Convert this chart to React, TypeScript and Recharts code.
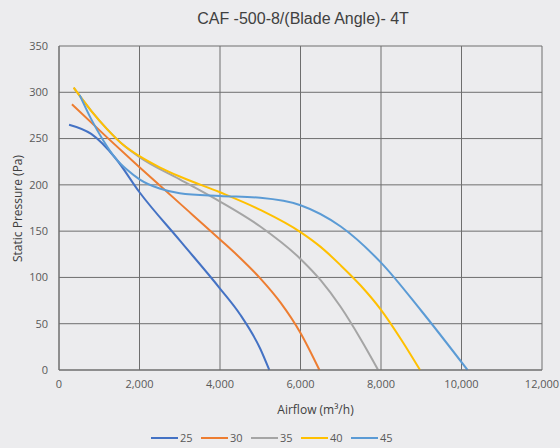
import { LineChart, Line, XAxis, YAxis, CartesianGrid, Legend } from "recharts";

const X_TICKS = [0, 2000, 4000, 6000, 8000, 10000, 12000];
const Y_TICKS = [0, 50, 100, 150, 200, 250, 300, 350];

// blade angle curves: airflow (m3/h) vs static pressure (Pa)
const ANGLE_25 = [
  { x: 250, y: 265 }, { x: 800, y: 255 }, { x: 1400, y: 229 }, { x: 2000, y: 192 },
  { x: 3000, y: 140 }, { x: 4000, y: 88 }, { x: 4500, y: 60 }, { x: 5000, y: 23 },
  { x: 5225, y: 0 },
];
const ANGLE_30 = [
  { x: 323, y: 287 }, { x: 1200, y: 251 }, { x: 2000, y: 219 }, { x: 3000, y: 180 },
  { x: 4000, y: 141 }, { x: 4500, y: 121 }, { x: 5000, y: 99 }, { x: 5500, y: 73 },
  { x: 6000, y: 40 }, { x: 6470, y: 0 },
];
const ANGLE_35 = [
  { x: 364, y: 305 }, { x: 800, y: 280 }, { x: 1200, y: 260 }, { x: 1600, y: 243 },
  { x: 2000, y: 230 }, { x: 3000, y: 206 }, { x: 4000, y: 182 }, { x: 5000, y: 155 },
  { x: 6000, y: 120 }, { x: 6500, y: 97 }, { x: 7000, y: 68 }, { x: 7500, y: 33 },
  { x: 7930, y: 0 },
];
const ANGLE_40 = [
  { x: 364, y: 305 }, { x: 800, y: 280 }, { x: 1200, y: 260 }, { x: 1600, y: 243 },
  { x: 2000, y: 231 }, { x: 2500, y: 219 }, { x: 3000, y: 209 }, { x: 4000, y: 192 },
  { x: 5000, y: 173 }, { x: 6000, y: 149 }, { x: 6500, y: 133 }, { x: 7000, y: 113 },
  { x: 7500, y: 91 }, { x: 8000, y: 65 }, { x: 8500, y: 33 }, { x: 8970, y: 0 },
];
const ANGLE_45 = [
  { x: 513, y: 297 }, { x: 800, y: 271 }, { x: 1100, y: 248 }, { x: 1400, y: 229 },
  { x: 1700, y: 216 }, { x: 2000, y: 206 }, { x: 2500, y: 196 }, { x: 3000, y: 191 },
  { x: 4000, y: 188 }, { x: 5000, y: 186 }, { x: 6000, y: 178 }, { x: 7000, y: 155 },
  { x: 8000, y: 116 }, { x: 9000, y: 64 }, { x: 10150, y: 0 },
];

const SERIES = [
  { name: "25", data: ANGLE_25, color: "#4472C4" },
  { name: "30", data: ANGLE_30, color: "#ED7D31" },
  { name: "35", data: ANGLE_35, color: "#A5A5A5" },
  { name: "40", data: ANGLE_40, color: "#FFC000" },
  { name: "45", data: ANGLE_45, color: "#5B9BD5" },
];

const FONT = "'Open Sans', 'Liberation Sans', sans-serif";

function LegendRow() {
  return (
    <div style={{ display: "flex", justifyContent: "center", paddingLeft: 10 }}>
      {SERIES.map((s) => (
        <div key={s.name} style={{ display: "flex", alignItems: "center", width: 50 }}>
          <div style={{ width: 27, height: 2, background: s.color, marginRight: 2 }} />
          <span style={{ fontSize: 11, color: "#595959", fontFamily: FONT }}>{s.name}</span>
        </div>
      ))}
    </div>
  );
}

export default function App() {
  return (
    <div
      style={{
        position: "absolute",
        left: 0,
        top: 0,
        width: 560,
        height: 448,
        background: "#ECECEE",
        fontFamily: FONT,
      }}
    >
      <div
        style={{
          position: "absolute",
          top: 10,
          left: 0,
          width: 606,
          textAlign: "center",
          fontSize: 16,
          color: "#404040",
          fontFamily: "'Liberation Sans', Arial, sans-serif",
        }}
      >
        CAF -500-8/(Blade Angle)- 4T
      </div>
      <LineChart width={560} height={448} margin={{ top: 46, right: 18, bottom: 0, left: 0 }}>
        <CartesianGrid stroke="#6E6E6E" strokeWidth={1} />
        <XAxis
          type="number"
          dataKey="x"
          domain={[0, 12000]}
          ticks={X_TICKS}
          tickFormatter={(v: number) => v.toLocaleString("en-US")}
          axisLine={{ stroke: "#6E6E6E" }}
          tickLine={false}
          tickMargin={4}
          height={52}
          tick={{ fontSize: 11, fill: "#595959" }}
          label={{ value: "Airflow (m³/h)", position: "insideBottom", offset: 8, dx: 15, fontSize: 12, fill: "#404040" }}
        />
        <YAxis
          type="number"
          dataKey="y"
          domain={[0, 350]}
          ticks={Y_TICKS}
          width={59}
          axisLine={{ stroke: "#6E6E6E" }}
          tickLine={false}
          tickMargin={5}
          tick={{ fontSize: 11, fill: "#595959" }}
          label={{ value: "Static Pressure (Pa)", angle: -90, position: "insideLeft", offset: 18, dy: 54, fontSize: 12, fill: "#404040" }}
        />
        <Legend
          verticalAlign="bottom"
          height={26}
          wrapperStyle={{ top: 430 }}
          content={() => <LegendRow />}
        />
        {SERIES.map((s) => (
          <Line
            key={s.name}
            data={s.data}
            dataKey="y"
            name={s.name}
            type="monotone"
            stroke={s.color}
            strokeWidth={2}
            dot={false}
            isAnimationActive={false}
          />
        ))}
      </LineChart>
    </div>
  );
}
